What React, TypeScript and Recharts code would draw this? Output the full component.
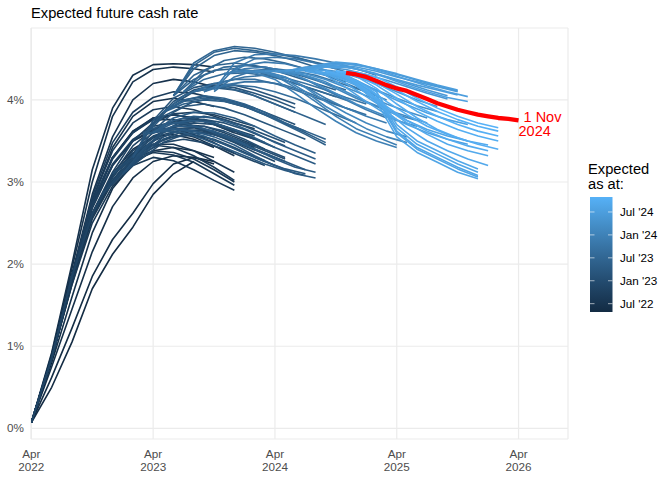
import React from "react";
import { LineChart, Line, XAxis, YAxis, CartesianGrid } from "recharts";

// x ticks (decimal years) and their two-line labels
const X_TICKS = [2022.25, 2023.25, 2024.25, 2025.25, 2026.25];
const X_LABELS = [
  ["Apr", "2022"],
  ["Apr", "2023"],
  ["Apr", "2024"],
  ["Apr", "2025"],
  ["Apr", "2026"],
];
const Y_TICKS = [0, 1, 2, 3, 4];

// colour bar breaks
const LEGEND_BREAKS = ["2022-07-01", "2023-01-01", "2023-07-01", "2024-01-01", "2024-07-01"];
const LEGEND_LABELS = ["Jul '22", "Jan '23", "Jul '23", "Jan '24", "Jul '24"];

// 2022 curves: all drawn from Apr 2022, expected rate (%) every 2 months
const EARLY_START = "2022-04";
const EARLY_AS_AT = [
  "2022-04-26", "2022-05-10", "2022-05-25", "2022-05-31", "2022-06-07", "2022-06-14", "2022-06-17",
  "2022-06-21", "2022-06-24", "2022-06-28", "2022-07-05", "2022-07-12", "2022-07-19", "2022-07-26",
  "2022-08-02", "2022-08-09", "2022-08-16", "2022-08-23", "2022-08-30", "2022-09-06", "2022-09-13",
  "2022-09-22", "2022-09-27", "2022-10-11", "2022-10-18", "2022-10-25",
];
const EARLY_CURVES = [
  [0.07, 0.5, 1.05, 1.7, 2.12, 2.45, 2.85, 3.1, 3.25],
  [0.07, 0.62, 1.22, 1.85, 2.3, 2.62, 2.98, 3.22, 3.3, 3.25],
  [0.07, 0.75, 1.45, 2.15, 2.7, 3.05, 3.25, 3.32, 3.3, 3.22],
  [0.07, 0.8, 1.6, 2.38, 2.92, 3.22, 3.38, 3.42, 3.38, 3.3],
  [0.07, 0.85, 1.75, 2.6, 3.1, 3.4, 3.55, 3.58, 3.52, 3.42],
  [0.07, 0.92, 2.0, 3.15, 3.9, 4.3, 4.43, 4.44, 4.43, 4.4],
  [0.07, 0.9, 1.95, 3.0, 3.8, 4.22, 4.37, 4.4, 4.38, 4.34],
  [0.07, 0.88, 1.88, 2.85, 3.55, 4.0, 4.2, 4.25, 4.22, 4.16],
  [0.07, 0.87, 1.86, 2.78, 3.42, 3.8, 3.98, 4.02, 3.98, 3.92],
  [0.07, 0.86, 1.82, 2.7, 3.3, 3.62, 3.78, 3.82, 3.78, 3.7],
  [0.07, 0.85, 1.8, 2.75, 3.3, 3.62, 3.76, 3.76, 3.68, 3.58, 3.5],
  [0.07, 0.85, 1.8, 2.7, 3.2, 3.5, 3.62, 3.62, 3.55, 3.44, 3.32],
  [0.07, 0.85, 1.78, 2.62, 3.08, 3.35, 3.46, 3.46, 3.38, 3.25, 3.12],
  [0.07, 0.85, 1.78, 2.58, 3.02, 3.28, 3.38, 3.36, 3.28, 3.15, 3.0],
  [0.07, 0.85, 1.75, 2.5, 2.95, 3.2, 3.3, 3.26, 3.15, 3.02, 2.9],
  [0.07, 0.85, 1.78, 2.55, 3.0, 3.26, 3.36, 3.33, 3.24, 3.1, 2.96],
  [0.07, 0.85, 1.8, 2.6, 3.08, 3.35, 3.45, 3.42, 3.32, 3.18, 3.02],
  [0.07, 0.85, 1.82, 2.68, 3.2, 3.5, 3.65, 3.65, 3.58, 3.48, 3.35],
  [0.07, 0.85, 1.83, 2.72, 3.28, 3.6, 3.78, 3.82, 3.78, 3.7, 3.6],
  [0.07, 0.85, 1.85, 2.78, 3.38, 3.72, 3.88, 3.92, 3.88, 3.8, 3.72, 3.65],
  [0.07, 0.85, 1.85, 2.82, 3.48, 3.85, 4.03, 4.1, 4.08, 4.02, 3.95, 3.88],
  [0.07, 0.85, 1.84, 2.75, 3.3, 3.6, 3.76, 3.82, 3.78, 3.7, 3.6, 3.52],
  [0.07, 0.85, 1.85, 2.7, 3.22, 3.52, 3.68, 3.72, 3.68, 3.6, 3.5, 3.42],
  [0.07, 0.85, 1.85, 2.62, 3.12, 3.5, 3.72, 3.83, 3.85, 3.82, 3.75, 3.68],
  [0.07, 0.85, 1.85, 2.61, 3.08, 3.44, 3.64, 3.74, 3.76, 3.72, 3.64, 3.56],
  [0.07, 0.85, 1.85, 2.6, 3.05, 3.38, 3.56, 3.65, 3.66, 3.6, 3.52, 3.44],
];

// later curves: drawn from the "as at" month, expected rate (%) every 2 months
const LATER_AS_AT = [
  "2022-11-01", "2022-11-08", "2022-11-15", "2022-11-22", "2022-11-29", "2022-12-06", "2022-12-13",
  "2022-12-20", "2023-01-03", "2023-01-10", "2023-01-17", "2023-01-24", "2023-01-31", "2023-02-07",
  "2023-02-14", "2023-02-21", "2023-02-28", "2023-03-01", "2023-03-07", "2023-03-14", "2023-03-21",
  "2023-03-28", "2023-04-04", "2023-04-11", "2023-04-18", "2023-04-25", "2023-04-28", "2023-05-09",
  "2023-05-16", "2023-05-23", "2023-05-30", "2023-06-06", "2023-06-08", "2023-06-13", "2023-06-20",
  "2023-06-27", "2023-07-04", "2023-07-11", "2023-07-25", "2023-08-08", "2023-08-22", "2023-09-05",
  "2023-09-19", "2023-10-03", "2023-10-17", "2023-10-31", "2023-11-07", "2023-11-14", "2023-11-28",
  "2023-12-05", "2023-12-19", "2024-01-16", "2024-01-30", "2024-02-06", "2024-02-20", "2024-03-05",
  "2024-03-26", "2024-04-09", "2024-04-30", "2024-05-07", "2024-05-21", "2024-06-04", "2024-06-11",
  "2024-06-18", "2024-06-25", "2024-07-02", "2024-07-09", "2024-07-16", "2024-07-23", "2024-07-30",
  "2024-08-06", "2024-08-09", "2024-08-13", "2024-08-20", "2024-08-27", "2024-09-03", "2024-09-10",
  "2024-09-17", "2024-09-24", "2024-10-01", "2024-10-08", "2024-10-15", "2024-10-22", "2024-10-29",
];
const LATER_CURVES = [
  [2.85, 3.18, 3.5, 3.7, 3.78, 3.76, 3.68, 3.58, 3.48],
  [2.85, 3.15, 3.45, 3.62, 3.7, 3.68, 3.6, 3.5, 3.4],
  [2.85, 3.1, 3.35, 3.48, 3.52, 3.48, 3.4, 3.3, 3.2],
  [2.85, 3.12, 3.38, 3.52, 3.58, 3.55, 3.46, 3.36, 3.26],
  [2.85, 3.14, 3.42, 3.58, 3.64, 3.62, 3.54, 3.44, 3.34],
  [3.1, 3.3, 3.5, 3.6, 3.62, 3.58, 3.48, 3.36, 3.25],
  [3.1, 3.28, 3.46, 3.55, 3.57, 3.52, 3.42, 3.3, 3.2],
  [3.1, 3.32, 3.55, 3.68, 3.72, 3.7, 3.62, 3.52, 3.42],
  [3.1, 3.3, 3.48, 3.58, 3.6, 3.55, 3.45, 3.35, 3.25],
  [3.1, 3.33, 3.52, 3.62, 3.64, 3.58, 3.48, 3.38, 3.28],
  [3.1, 3.35, 3.55, 3.65, 3.68, 3.62, 3.52, 3.4, 3.3],
  [3.1, 3.38, 3.6, 3.72, 3.76, 3.72, 3.64, 3.54, 3.44],
  [3.1, 3.4, 3.62, 3.75, 3.8, 3.76, 3.68, 3.58, 3.48],
  [3.3, 3.62, 3.85, 3.98, 4.02, 3.98, 3.9, 3.8, 3.7],
  [3.3, 3.7, 3.95, 4.1, 4.15, 4.12, 4.05, 3.95, 3.85],
  [3.3, 3.72, 3.98, 4.12, 4.18, 4.15, 4.08, 4.0, 3.9],
  [3.3, 3.75, 4.02, 4.15, 4.2, 4.18, 4.12, 4.04, 3.95],
  [3.55, 3.85, 4.0, 4.04, 4.0, 3.92, 3.82, 3.72, 3.62],
  [3.55, 3.8, 3.92, 3.95, 3.9, 3.82, 3.72, 3.62, 3.52],
  [3.6, 3.7, 3.72, 3.65, 3.55, 3.45, 3.35, 3.25, 3.15],
  [3.58, 3.62, 3.6, 3.52, 3.42, 3.32, 3.22, 3.14, 3.08],
  [3.58, 3.64, 3.63, 3.56, 3.46, 3.35, 3.25, 3.16, 3.1],
  [3.6, 3.65, 3.62, 3.55, 3.45, 3.32, 3.2, 3.1, 3.05],
  [3.6, 3.68, 3.68, 3.62, 3.52, 3.4, 3.28, 3.18, 3.12],
  [3.6, 3.72, 3.75, 3.72, 3.64, 3.54, 3.42, 3.32, 3.22],
  [3.6, 3.75, 3.8, 3.78, 3.7, 3.6, 3.48, 3.38, 3.28],
  [3.6, 3.78, 3.85, 3.84, 3.78, 3.68, 3.56, 3.45, 3.35],
  [3.85, 3.95, 4.0, 3.98, 3.92, 3.82, 3.7, 3.58, 3.45],
  [3.85, 3.98, 4.02, 4.0, 3.93, 3.83, 3.71, 3.6, 3.48],
  [3.85, 4.0, 4.05, 4.02, 3.95, 3.85, 3.72, 3.62, 3.52],
  [3.85, 4.05, 4.15, 4.15, 4.1, 4.0, 3.9, 3.8, 3.7],
  [4.05, 4.25, 4.36, 4.38, 4.35, 4.28, 4.2, 4.12, 4.04],
  [4.05, 4.3, 4.42, 4.45, 4.42, 4.36, 4.28, 4.2, 4.12],
  [4.05, 4.38, 4.54, 4.6, 4.58, 4.54, 4.48, 4.4, 4.32],
  [4.05, 4.42, 4.58, 4.63, 4.6, 4.56, 4.52, 4.46, 4.4],
  [4.05, 4.45, 4.6, 4.65, 4.63, 4.58, 4.52, 4.45, 4.38],
  [4.1, 4.35, 4.48, 4.52, 4.5, 4.45, 4.38, 4.3, 4.22],
  [4.1, 4.3, 4.4, 4.42, 4.4, 4.35, 4.28, 4.2, 4.12],
  [4.1, 4.25, 4.32, 4.33, 4.3, 4.24, 4.16, 4.08, 4.0],
  [4.1, 4.15, 4.18, 4.16, 4.1, 4.02, 3.92, 3.82, 3.72],
  [4.1, 4.2, 4.25, 4.25, 4.2, 4.12, 4.03, 3.94, 3.86],
  [4.1, 4.18, 4.22, 4.22, 4.18, 4.1, 4.0, 3.9, 3.82],
  [4.1, 4.22, 4.28, 4.3, 4.27, 4.2, 4.12, 4.03, 3.95],
  [4.1, 4.28, 4.36, 4.38, 4.35, 4.3, 4.22, 4.14, 4.06],
  [4.12, 4.38, 4.5, 4.52, 4.5, 4.45, 4.38, 4.3, 4.22],
  [4.12, 4.45, 4.55, 4.56, 4.54, 4.5, 4.45, 4.38, 4.3],
  [4.3, 4.42, 4.46, 4.44, 4.38, 4.3, 4.2, 4.1, 4.0],
  [4.3, 4.38, 4.4, 4.35, 4.25, 4.12, 4.0, 3.88, 3.78],
  [4.32, 4.36, 4.35, 4.28, 4.16, 4.02, 3.9, 3.8, 3.72],
  [4.35, 4.35, 4.3, 4.15, 3.98, 3.8, 3.65, 3.55, 3.45],
  [4.35, 4.33, 4.25, 4.08, 3.9, 3.74, 3.6, 3.5, 3.42],
  [4.35, 4.33, 4.25, 4.1, 3.92, 3.78, 3.65, 3.55, 3.48],
  [4.35, 4.34, 4.28, 4.15, 3.98, 3.84, 3.72, 3.62, 3.55],
  [4.35, 4.36, 4.33, 4.25, 4.14, 4.02, 3.92, 3.82, 3.75],
  [4.35, 4.35, 4.3, 4.2, 4.08, 3.95, 3.85, 3.75, 3.68],
  [4.35, 4.34, 4.3, 4.22, 4.1, 3.98, 3.88, 3.8, 3.72],
  [4.35, 4.35, 4.32, 4.25, 4.15, 4.05, 3.95, 3.86, 3.78],
  [4.35, 4.36, 4.35, 4.3, 4.22, 4.12, 4.02, 3.93, 3.86],
  [4.35, 4.37, 4.38, 4.35, 4.28, 4.2, 4.1, 4.0, 3.92],
  [4.35, 4.38, 4.4, 4.37, 4.31, 4.24, 4.16, 4.08, 4.01],
  [4.35, 4.4, 4.42, 4.4, 4.35, 4.28, 4.2, 4.12, 4.05],
  [4.35, 4.41, 4.45, 4.43, 4.38, 4.31, 4.24, 4.17, 4.11],
  [4.35, 4.4, 4.43, 4.4, 4.35, 4.28, 4.22, 4.16, 4.1],
  [4.35, 4.39, 4.41, 4.38, 4.32, 4.25, 4.18, 4.12, 4.06],
  [4.35, 4.42, 4.46, 4.44, 4.38, 4.32, 4.25, 4.18, 4.12],
  [4.35, 4.42, 4.44, 4.4, 4.33, 4.25, 4.17, 4.1, 4.04],
  [4.35, 4.4, 4.4, 4.35, 4.27, 4.18, 4.1, 4.03, 3.98],
  [4.35, 4.36, 4.3, 4.18, 4.05, 3.94, 3.84, 3.76, 3.7],
  [4.35, 4.3, 4.15, 3.98, 3.82, 3.7, 3.6, 3.52, 3.46],
  [4.35, 4.32, 4.2, 4.04, 3.88, 3.75, 3.64, 3.56, 3.5],
  [4.35, 4.3, 4.22, 4.05, 3.62, 3.42, 3.3, 3.18, 3.08],
  [4.35, 4.29, 4.2, 4.02, 3.6, 3.4, 3.28, 3.16, 3.06],
  [4.35, 4.28, 4.18, 3.98, 3.55, 3.36, 3.24, 3.12, 3.04],
  [4.35, 4.3, 4.22, 4.06, 3.66, 3.46, 3.34, 3.22, 3.12],
  [4.35, 4.3, 4.24, 4.1, 3.7, 3.5, 3.38, 3.26, 3.16],
  [4.35, 4.27, 4.08, 3.86, 3.66, 3.5, 3.38, 3.28, 3.2],
  [4.35, 4.28, 4.1, 3.9, 3.72, 3.58, 3.46, 3.38, 3.32],
  [4.35, 4.29, 4.12, 3.92, 3.75, 3.62, 3.52, 3.44, 3.38],
  [4.35, 4.3, 4.16, 3.98, 3.82, 3.68, 3.58, 3.5, 3.45],
  [4.35, 4.29, 4.14, 3.95, 3.78, 3.64, 3.54, 3.46, 3.4],
  [4.35, 4.3, 4.18, 4.02, 3.86, 3.74, 3.64, 3.56, 3.5],
  [4.35, 4.31, 4.21, 4.07, 3.92, 3.8, 3.7, 3.62, 3.56],
  [4.35, 4.33, 4.25, 4.12, 3.98, 3.86, 3.76, 3.68, 3.62],
  [4.35, 4.34, 4.28, 4.16, 4.02, 3.9, 3.8, 3.72, 3.66],
];

// latest curve, 1 Nov 2024, monthly from Nov 2024
const LATEST_START = "2024-11";
const LATEST_VALUES = [
  4.33, 4.31, 4.28, 4.23, 4.18, 4.14, 4.11, 4.06, 4.01, 3.96, 3.92, 3.88, 3.85, 3.82, 3.8,
  3.78, 3.77, 3.75,
];

const FONT = "'Liberation Sans', Arial, Helvetica, sans-serif";

const monthToYear = (s: string, offset = 0) => {
  const [y, m] = s.split("-").map(Number);
  return y + (m - 1 + offset) / 12;
};
const dateToYear = (s: string) => {
  const [y, m, d] = s.split("-").map(Number);
  return y + (m - 1) / 12 + (d - 1) / 365;
};

// ggplot-style gradient, interpolated in Lab
function hexToRgb(h: string) {
  return [1, 3, 5].map((i) => parseInt(h.slice(i, i + 2), 16) / 255);
}
function rgbToLab(c: number[]) {
  const lin = c.map((v) => (v <= 0.04045 ? v / 12.92 : Math.pow((v + 0.055) / 1.055, 2.4)));
  const X = (0.4124 * lin[0] + 0.3576 * lin[1] + 0.1805 * lin[2]) / 0.95047;
  const Y = 0.2126 * lin[0] + 0.7152 * lin[1] + 0.0722 * lin[2];
  const Z = (0.0193 * lin[0] + 0.1192 * lin[1] + 0.9505 * lin[2]) / 1.08883;
  const f = (t: number) => (t > 0.008856 ? Math.cbrt(t) : 7.787 * t + 16 / 116);
  return [116 * f(Y) - 16, 500 * (f(X) - f(Y)), 200 * (f(Y) - f(Z))];
}
function labToHex(lab: number[]) {
  const fy = (lab[0] + 16) / 116;
  const fx = fy + lab[1] / 500;
  const fz = fy - lab[2] / 200;
  const inv = (t: number) => (t * t * t > 0.008856 ? t * t * t : (t - 16 / 116) / 7.787);
  const X = inv(fx) * 0.95047;
  const Y = inv(fy);
  const Z = inv(fz) * 1.08883;
  const r = 3.2406 * X - 1.5372 * Y - 0.4986 * Z;
  const g = -0.9689 * X + 1.8758 * Y + 0.0415 * Z;
  const b = 0.0557 * X - 0.204 * Y + 1.057 * Z;
  const gam = (v: number) => {
    const s = v <= 0.0031308 ? 12.92 * v : 1.055 * Math.pow(v, 1 / 2.4) - 0.055;
    return Math.round(Math.max(0, Math.min(1, s)) * 255);
  };
  return `rgb(${gam(r)},${gam(g)},${gam(b)})`;
}
const LOW_LAB = rgbToLab(hexToRgb("#132B43"));
const HIGH_LAB = rgbToLab(hexToRgb("#56B1F7"));

const allAsAt = [...EARLY_AS_AT, ...LATER_AS_AT].map(dateToYear);
const cMin = Math.min(...allAsAt);
const cMax = Math.max(...allAsAt);

function colourFor(v: number) {
  const f = Math.max(0, Math.min(1, (v - cMin) / (cMax - cMin)));
  return labToHex(LOW_LAB.map((lo, i) => lo + f * (HIGH_LAB[i] - lo)));
}

const series = [
  ...EARLY_CURVES.map((vals, i) => ({
    id: EARLY_AS_AT[i],
    when: dateToYear(EARLY_AS_AT[i]),
    data: vals.map((v, k) => ({ t: monthToYear(EARLY_START, k * 2), v })),
  })),
  ...LATER_CURVES.map((vals, i) => ({
    id: LATER_AS_AT[i],
    when: dateToYear(LATER_AS_AT[i]),
    data: vals.map((v, k) => ({ t: monthToYear(LATER_AS_AT[i].slice(0, 7), k * 2), v })),
  })),
].sort((a, b) => a.when - b.when);

const latest = LATEST_VALUES.map((v, k) => ({ t: monthToYear(LATEST_START, k), v }));

function XTick(props: any) {
  const { x, y, payload } = props;
  const idx = X_TICKS.indexOf(payload.value);
  const lab = X_LABELS[idx] ?? ["", ""];
  return (
    <text x={x} y={y} textAnchor="middle" fill="#4D4D4D" fontSize={11.7} fontFamily={FONT}>
      <tspan x={x} dy={18.8}>{lab[0]}</tspan>
      <tspan x={x} dy={13.4}>{lab[1]}</tspan>
    </text>
  );
}

function latestLabel(p: any) {
  if (p.index !== LATEST_VALUES.length - 1) return null;
  return (
    <text x={p.x} y={p.y} fill="#FF0000" fontSize={14.5} fontFamily={FONT}>
      <tspan x={p.x + 5} dy={1.4}>1 Nov</tspan>
      <tspan x={p.x} dy={14}>2024</tspan>
    </text>
  );
}

// colour bar geometry
const BAR = { x: 590, y: 197, w: 22.5, h: 115 };

export default function App() {
  return (
    <div style={{ position: "absolute", left: 0, top: 0, width: 672, height: 480, background: "#fff", fontFamily: FONT }}>
      <LineChart width={672} height={480} margin={{ top: 28, right: 104, bottom: 0, left: 0 }}>
        <CartesianGrid stroke="#EBEBEB" strokeWidth={1.2} />
        <XAxis
          type="number"
          dataKey="t"
          domain={[2022.247, 2026.656]}
          ticks={X_TICKS}
          interval={0}
          allowDataOverflow
          height={41}
          axisLine={false}
          tickLine={false}
          tickSize={0}
          tickMargin={0}
          tick={<XTick />}
        />
        <YAxis
          type="number"
          domain={[-0.13, 4.876]}
          ticks={Y_TICKS}
          interval={0}
          allowDataOverflow
          width={31}
          axisLine={false}
          tickLine={false}
          tickSize={0}
          tickMargin={7}
          tickFormatter={(v: number) => `${v}%`}
          tick={{ fill: "#4D4D4D", fontSize: 11.7, fontFamily: FONT }}
        />
        {series.map((s) => (
          <Line
            key={s.id}
            data={s.data}
            dataKey="v"
            type="linear"
            stroke={colourFor(s.when)}
            strokeWidth={1.6}
            strokeLinejoin="round"
            dot={false}
            activeDot={false}
            isAnimationActive={false}
          />
        ))}
        <Line
          data={latest}
          dataKey="v"
          type="linear"
          stroke="#FF0000"
          strokeWidth={4.3}
          strokeLinejoin="round"
          dot={false}
          activeDot={false}
          isAnimationActive={false}
          label={latestLabel}
        />
      </LineChart>
      <svg width={672} height={480} style={{ position: "absolute", left: 0, top: 0, pointerEvents: "none" }}>
        <text x={31} y={18} fontSize={14.7} fill="#000" fontFamily={FONT}>
          Expected future cash rate
        </text>
        <defs>
          <linearGradient id="asAtBar" x1="0" y1="1" x2="0" y2="0">
            {[0, 0.25, 0.5, 0.75, 1].map((f) => (
              <stop key={f} offset={`${f * 100}%`} stopColor={colourFor(cMin + f * (cMax - cMin))} />
            ))}
          </linearGradient>
        </defs>
        <text x={588} y={174} fontSize={14.7} fill="#000" fontFamily={FONT}>
          <tspan x={588}>Expected</tspan>
          <tspan x={588} dy={15}>as at:</tspan>
        </text>
        <rect x={BAR.x} y={BAR.y} width={BAR.w} height={BAR.h} fill="url(#asAtBar)" />
        {LEGEND_BREAKS.map((b, i) => {
          const f = (dateToYear(b) - cMin) / (cMax - cMin);
          const y = BAR.y + BAR.h - f * BAR.h;
          return (
            <g key={b}>
              <line x1={BAR.x} x2={BAR.x + 4.5} y1={y} y2={y} stroke="#fff" strokeOpacity={0.6} strokeWidth={1} />
              <line x1={BAR.x + BAR.w - 4.5} x2={BAR.x + BAR.w} y1={y} y2={y} stroke="#fff" strokeOpacity={0.6} strokeWidth={1} />
              <text x={620} y={y + 4.2} fontSize={11.7} fill="#000" fontFamily={FONT}>
                {LEGEND_LABELS[i]}
              </text>
            </g>
          );
        })}
      </svg>
    </div>
  );
}
